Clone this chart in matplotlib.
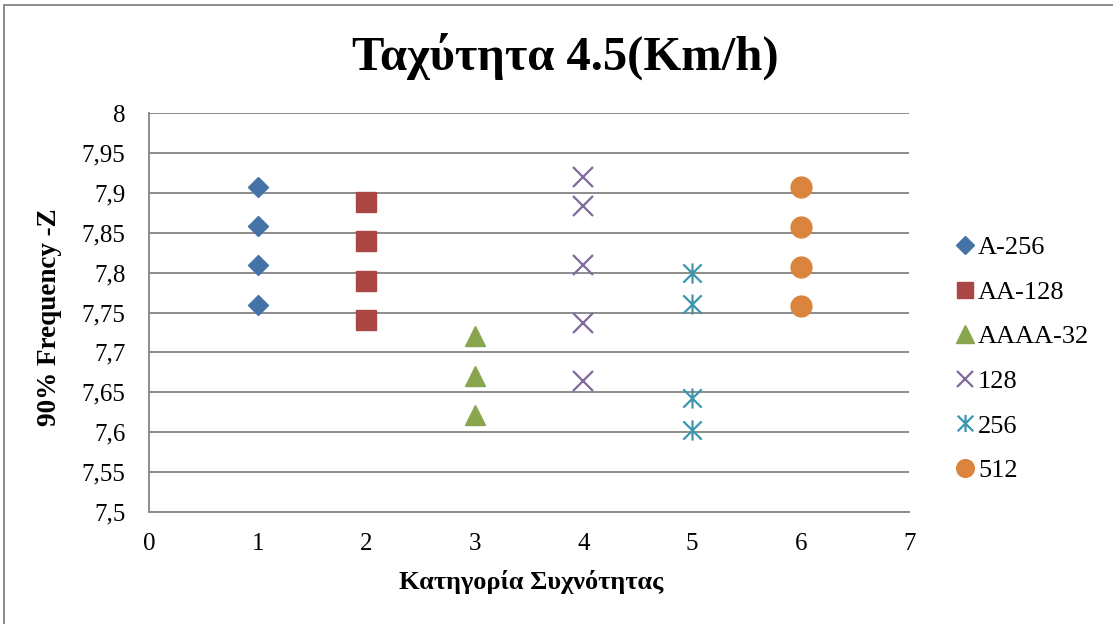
import numpy as np
import matplotlib
matplotlib.use('Agg')
import matplotlib.pyplot as plt
from matplotlib.path import Path
from matplotlib.patches import Rectangle
from matplotlib.ticker import FuncFormatter, MultipleLocator

plt.rcParams['font.family'] = ['Liberation Serif', 'DejaVu Serif']

# data
series_names = ['A-256', 'AA-128', 'AAAA-32', '128', '256', '512']
x_a256 = [1, 1, 1, 1]
y_a256 = [7.908, 7.858, 7.809, 7.759]
x_aa128 = [2, 2, 2, 2]
y_aa128 = [7.889, 7.840, 7.790, 7.741]
x_aaaa32 = [3, 3, 3]
y_aaaa32 = [7.720, 7.670, 7.621]
x_128 = [4, 4, 4, 4, 4]
y_128 = [7.920, 7.884, 7.810, 7.737, 7.664]
x_256 = [5, 5, 5, 5]
y_256 = [7.800, 7.761, 7.643, 7.603]
x_512 = [6, 6, 6, 6]
y_512 = [7.907, 7.857, 7.807, 7.758]

title = 'Ταχύτητα 4.5(Km/h)'
xlabel = 'Κατηγορία Συχνότητας'
ylabel = '90% Frequency -Z'

# excel style asterisk: x plus vertical bar
asterisk = Path([(-1, -1), (1, 1), (-1, 1), (1, -1), (0, -1.1), (0, 1.1)],
                [Path.MOVETO, Path.LINETO, Path.MOVETO, Path.LINETO, Path.MOVETO, Path.LINETO])

fig = plt.figure(figsize=(11.13, 6.24), dpi=100)
ax = fig.add_axes([149/1113, 1-511.7/624, (909.3-149)/1113, (511.7-113.3)/624])

ax.plot(x_a256, y_a256, ls='none', marker='D', ms=10.5, color='#4572A7', mec='#4572A7', label=series_names[0])
ax.plot(x_aa128, y_aa128, ls='none', marker='s', ms=14, color='#AA4643', mec='#AA4643', label=series_names[1])
ax.plot(x_aaaa32, y_aaaa32, ls='none', marker='^', ms=15, color='#89A54E', mec='#89A54E', label=series_names[2])
ax.plot(x_128, y_128, ls='none', marker='x', ms=14, mew=1.6, color='#80699B', label=series_names[3])
ax.plot(x_256, y_256, ls='none', marker=asterisk, ms=14.5, mew=1.6, color='#3D96AE', mfc='none', label=series_names[4])
ax.plot(x_512, y_512, ls='none', marker='o', ms=15, color='#DB843D', mec='#DB843D', label=series_names[5])

ax.set_xlim(0, 7)
ax.set_ylim(7.5, 8)
ax.xaxis.set_major_locator(MultipleLocator(1))
ax.yaxis.set_major_locator(MultipleLocator(0.05))
ax.yaxis.set_major_formatter(FuncFormatter(lambda v, p: ('%g' % round(v, 2)).replace('.', ',')))
ax.grid(axis='y', color='#8C8C8C', lw=1.4)
ax.set_axisbelow(True)
for s in ['top', 'right']:
    ax.spines[s].set_visible(False)
for s in ['left', 'bottom']:
    ax.spines[s].set_color('#8C8C8C')
    ax.spines[s].set_linewidth(1.4)
ax.tick_params(axis='x', length=0, pad=15, labelsize=18)
ax.tick_params(axis='y', length=0, pad=17, labelsize=18)

fig.text(565/1113, 1-56/624, title, ha='center', va='center', fontsize=35, fontweight='bold')
fig.text(531/1113, 1-582/624, xlabel, ha='center', va='center', fontsize=19, fontweight='bold')
fig.text(50/1113, 1-317/624, ylabel, ha='center', va='center', rotation=90, fontsize=19.5, fontweight='bold')

lgd = ax.legend(loc='center left', bbox_to_anchor=(957/1113, 1-359/624), bbox_transform=fig.transFigure,
                frameon=False, fontsize=19, handlelength=0.6, handletextpad=0.2, labelspacing=0.8,
                markerscale=0.85, borderpad=0, borderaxespad=0)

# outer chart border
fig.patches.append(Rectangle((4/1113, -0.1), 1.2, 1.1-5/624, transform=fig.transFigure,
                             fill=False, ec='#8C8C8C', lw=1.4))

fig.savefig('out.png', dpi=100)
